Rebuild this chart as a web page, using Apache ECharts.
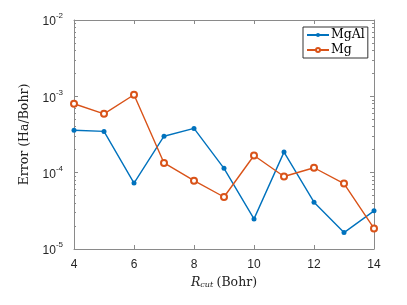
<!DOCTYPE html>
<html><head><meta charset="utf-8">
<script src="https://cdn.jsdelivr.net/npm/echarts@6/dist/echarts.min.js"></script>
<style>html,body{margin:0;padding:0;background:#fff}#c{width:407px;height:305px}</style>
</head><body><div id="c"></div>
<script>
var rcut = [4,5,6,7,8,9,10,11,12,13,14];
var mgal = [3.6e-4,3.47e-4,7.3e-5,3.0e-4,3.8e-4,1.14e-4,2.48e-5,1.86e-4,4.1e-5,1.64e-5,3.16e-5];
var mg = [8.0e-4,5.9e-4,1.05e-3,1.34e-4,7.85e-5,4.8e-5,1.68e-4,8.9e-5,1.16e-4,7.2e-5,1.86e-5];
var seriesNames = ['MgAl','Mg'];
var xTicks = [4,6,8,10,12,14];
var yTicks = [1e-5,1e-4,1e-3,1e-2];

var axisColor = '#8a8a8a';
var labelFont = 'Liberation Sans';
var serif = 'DejaVu Serif';
function pairs(v){ return rcut.map(function(x,i){return [x,v[i]];}); }
var chart = echarts.init(document.getElementById('c'), null, {renderer:'canvas'});
var yLabelFmt = function(v){
  var e = Math.round(Math.log10(v));
  return '{b|10}{s|' + e + '}';
};
chart.setOption({
  animation:false,
  grid:{left:74,right:33,top:20,bottom:56},
  legend:{
    left:303, top:27, orient:'vertical', itemGap:1, itemWidth:22, itemHeight:5,
    borderColor:'#333', borderWidth:1, padding:[1,3,1,3], backgroundColor:'#fff',
    textStyle:{fontFamily:serif, fontSize:12.5, color:'#000', lineHeight:14, padding:[0,0,0,-3]},
    data:seriesNames
  },
  xAxis:[{
    type:'value', min:4, max:14, interval:2,
    name:'{i|R}{sub|cut} {n|(Bohr)}', nameLocation:'middle', nameGap:25,
    nameTextStyle:{rich:{
      i:{fontFamily:serif, fontStyle:'italic', fontSize:12.5, color:'#222'},
      sub:{fontFamily:serif, fontStyle:'italic', fontSize:8, color:'#222', verticalAlign:'bottom', padding:[6,0,0,0]},
      n:{fontFamily:serif, fontSize:12.5, color:'#222'}
    }},
    axisLine:{lineStyle:{color:axisColor}},
    axisTick:{inside:true, length:4, lineStyle:{color:axisColor}},
    axisLabel:{fontFamily:labelFont, fontSize:12, color:'#262626', margin:10},
    splitLine:{show:false}
  },{
    type:'value', min:4, max:14, interval:2, position:'top',
    axisLine:{show:true, lineStyle:{color:axisColor}},
    axisTick:{inside:true, length:4, lineStyle:{color:axisColor}},
    axisLabel:{show:false}, splitLine:{show:false}
  }],
  yAxis:[{
    type:'log', logBase:10, min:1e-5, max:1e-2,
    name:'Error (Ha/Bohr)', nameLocation:'middle', nameGap:36,
    nameTextStyle:{fontFamily:serif, fontSize:12.5, color:'#222'},
    axisLine:{show:true, lineStyle:{color:axisColor}},
    axisTick:{inside:true, length:4, lineStyle:{color:axisColor}},
    minorTick:{show:true, splitNumber:9, length:2, lineStyle:{color:axisColor}},
    axisLabel:{formatter:yLabelFmt, margin:11, rich:{
      b:{fontFamily:labelFont, fontSize:12, color:'#262626', verticalAlign:'bottom', lineHeight:16},
      s:{fontFamily:labelFont, fontSize:8, color:'#262626', verticalAlign:'top', lineHeight:10}
    }},
    splitLine:{show:false}
  },{
    type:'log', logBase:10, min:1e-5, max:1e-2, position:'right',
    axisLine:{show:true, lineStyle:{color:axisColor}},
    axisTick:{inside:true, length:4, lineStyle:{color:axisColor}},
    minorTick:{show:true, splitNumber:9, length:2, lineStyle:{color:axisColor}},
    axisLabel:{show:false}, splitLine:{show:false}
  }],
  series:[{
    name:seriesNames[0], type:'line', data:pairs(mgal),
    color:'#0072BD', lineStyle:{width:1.4},
    symbol:'circle', symbolSize:5, itemStyle:{color:'#0072BD'}
  },{
    name:seriesNames[1], type:'line', data:pairs(mg),
    color:'#D95319', lineStyle:{width:1.4},
    symbol:'emptyCircle', symbolSize:6, itemStyle:{color:'#D95319', borderWidth:1.3}
  }]
});
</script></body></html>
